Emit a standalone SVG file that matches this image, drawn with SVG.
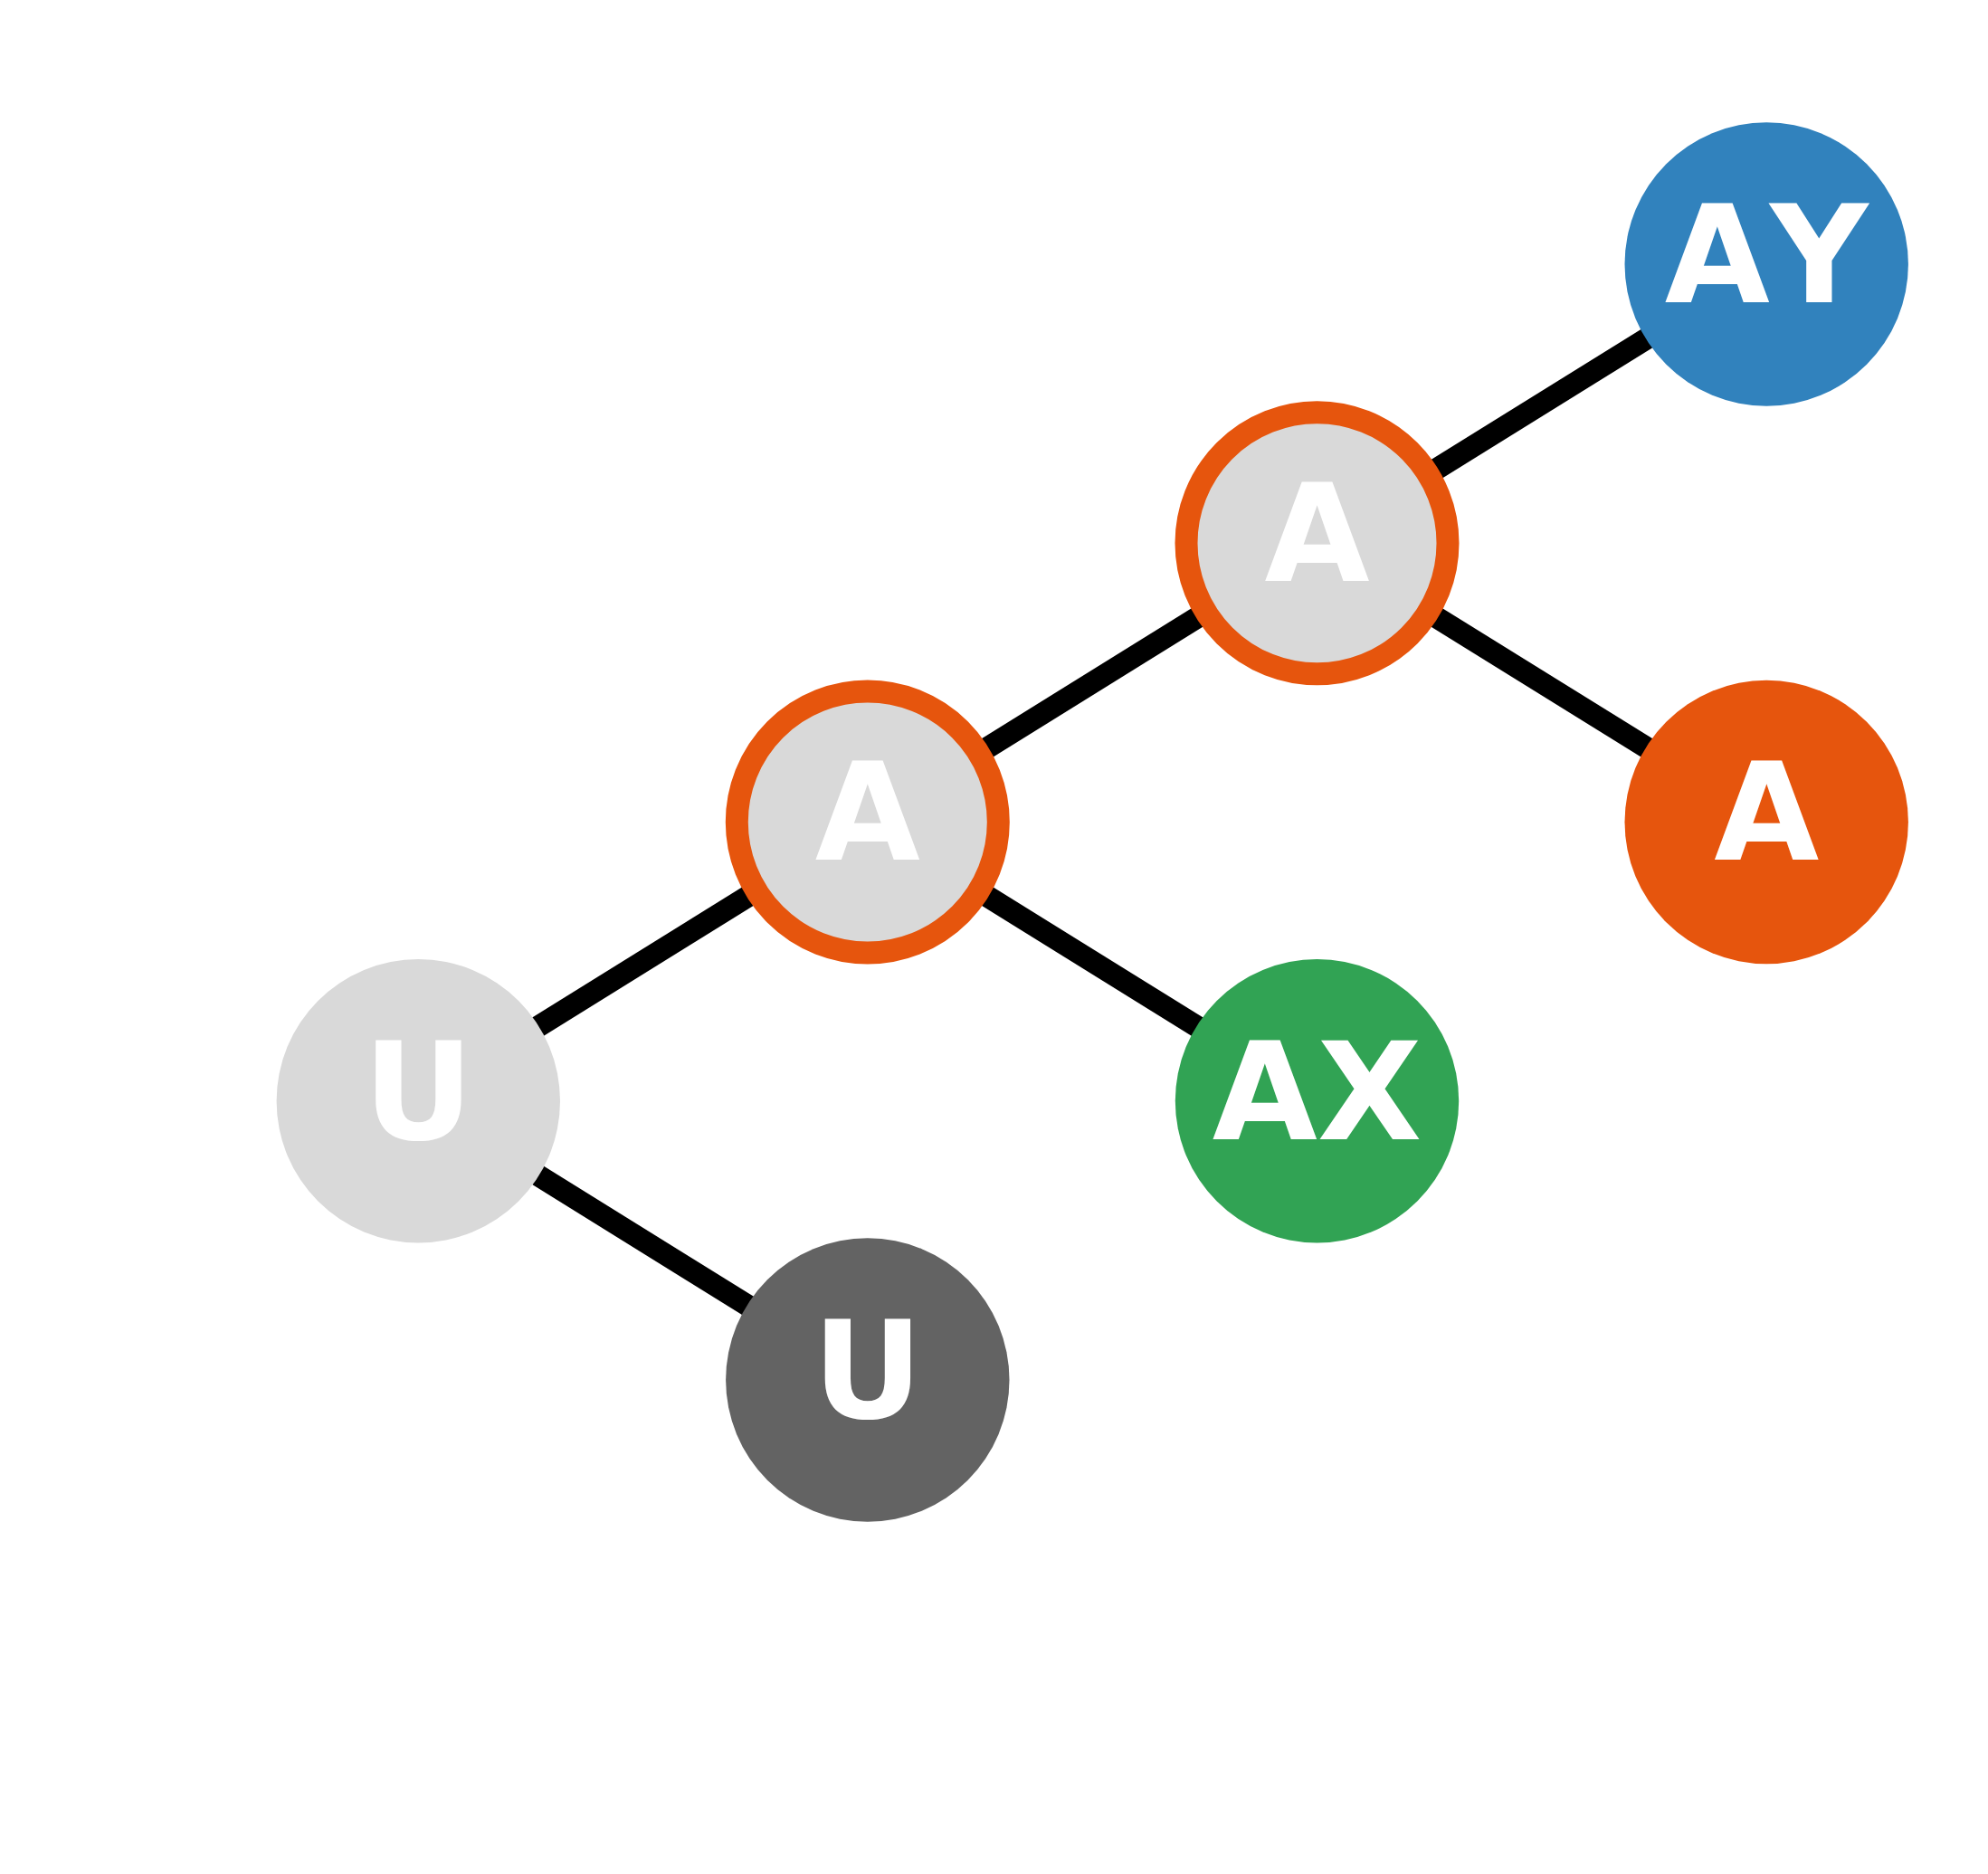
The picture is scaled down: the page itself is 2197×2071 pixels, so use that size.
<svg xmlns="http://www.w3.org/2000/svg" width="2197" height="2071" viewBox="0 0 2197 2071">
<style>
.edge{stroke:#000;stroke-width:24;fill:none}
.lbl{font-family:"DejaVu Sans",sans-serif;font-weight:bold;font-size:150px;fill:#fff;text-anchor:middle}
.nokern{font-kerning:none}
.ring{stroke:#e6550d;stroke-width:25}
</style>
<rect width="2197" height="2071" fill="#fff"/>
<g id="connectors">
<line class="edge" x1="462.3" y1="1216.7" x2="958.8" y2="908.5"/>
<line class="edge" x1="462.3" y1="1216.7" x2="958.8" y2="1525"/>
<line class="edge" x1="958.8" y1="908.5" x2="1455.5" y2="600.3"/>
<line class="edge" x1="958.8" y1="908.5" x2="1455.5" y2="1216.7"/>
<line class="edge" x1="1455.5" y1="600.3" x2="1952.2" y2="292"/>
<line class="edge" x1="1455.5" y1="600.3" x2="1952.2" y2="908.5"/>
</g>
<g id="node-u-light">
<circle cx="462.3" cy="1216.7" r="156.7" fill="#d9d9d9"/>
<text class="lbl" x="462.3" y="1258.5">U</text>
</g>
<g id="node-u-dark">
<circle cx="958.8" cy="1525" r="156.7" fill="#636363"/>
<text class="lbl" x="958.8" y="1566.8">U</text>
</g>
<g id="node-a-mid">
<circle class="ring" cx="958.8" cy="908.5" r="144.5" fill="#d9d9d9"/>
<text class="lbl" x="958.8" y="950.3">A</text>
</g>
<g id="node-ax">
<circle cx="1455.5" cy="1216.7" r="156.7" fill="#31a354"/>
<text class="lbl" x="1455.5" y="1258.5">AX</text>
</g>
<g id="node-a-top">
<circle class="ring" cx="1455.5" cy="600.3" r="144.5" fill="#d9d9d9"/>
<text class="lbl" x="1455.5" y="642.1">A</text>
</g>
<g id="node-ay">
<circle cx="1952.2" cy="292" r="156.7" fill="#3182bd"/>
<text class="lbl nokern" x="1952.2" y="333.8">AY</text>
</g>
<g id="node-a-orange">
<circle cx="1952.2" cy="908.5" r="156.7" fill="#e6550d"/>
<text class="lbl" x="1952.2" y="950.3">A</text>
</g>
</svg>
